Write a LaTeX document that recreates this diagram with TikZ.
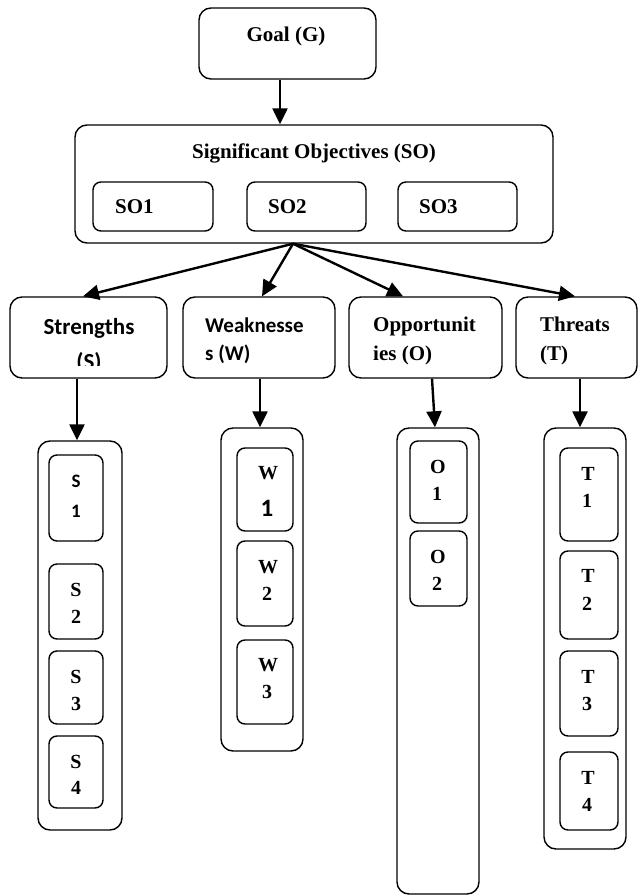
\documentclass[tikz,border=0pt]{standalone}
\usepackage{fontspec}
\setmainfont{Liberation Serif}
\newfontfamily\calib{Carlito}
\usetikzlibrary{arrows.meta}
\begin{document}
\begin{tikzpicture}[x=1pt,y=-1pt,
  bigbox/.style={draw, line width=1.4pt, rounded corners=12pt, inner sep=0pt},
  smallbox/.style={draw, line width=1.4pt, rounded corners=8pt, inner sep=0pt},
  arr/.style={line width=2.4pt, -{Triangle[length=16pt,width=15pt]}},
  lbl/.style={inner sep=0pt, font=\fontsize{21}{25}\selectfont\bfseries},
  clbl/.style={inner sep=0pt, font=\fontsize{21}{25}\selectfont\calib\bfseries},
  cbig/.style={inner sep=0pt, font=\fontsize{23}{27}\selectfont\calib\bfseries},
  cdig/.style={inner sep=0pt, font=\fontsize{19}{23}\selectfont\calib\bfseries},
  tlbl/.style={inner sep=0pt, font=\fontsize{20}{24}\selectfont\bfseries}
]
\useasboundingbox (0,0) rectangle (638,896);

% top
\node[bigbox, minimum width=177pt, minimum height=71pt] (goal) at (287.5,43.5) {};
\node[lbl, anchor=base] (goalt) at (286,42) {Goal (G)};

\node[bigbox, minimum width=478pt, minimum height=118pt] (so) at (314,184) {};
\node[lbl, anchor=base] (sot) at (314,159) {Significant Objectives (SO)};
\node[smallbox, minimum width=120pt, minimum height=49pt] (so1) at (153,206.5) {};
\node[smallbox, minimum width=119pt, minimum height=49pt] (so2) at (306.5,206.5) {};
\node[smallbox, minimum width=119pt, minimum height=49pt] (so3) at (457.5,206.5) {};
\node[lbl, anchor=base west] (so1t) at (115,213) {SO1};
\node[lbl, anchor=base west] (so2t) at (268,213) {SO2};
\node[lbl, anchor=base west] (so3t) at (419,213) {SO3};

% level 2
\node[bigbox, minimum width=157pt, minimum height=81pt] (st) at (88.5,337.5) {};
\node[bigbox, minimum width=152pt, minimum height=81pt] (wk) at (259,337.5) {};
\node[bigbox, minimum width=153pt, minimum height=81pt] (op) at (425.5,337.5) {};
\node[bigbox, minimum width=121pt, minimum height=81pt] (th) at (576.5,337.5) {};

\node[cbig, anchor=base] (stt) at (89,334) {Strengths};
\begin{scope}
  \clip (10,297) rectangle (167,365);
  \node[cbig, anchor=base] (stt2) at (89,369) {(S)};
\end{scope}
\node[clbl, anchor=base west] (wkt) at (205,332) {Weaknesse};
\node[clbl, anchor=base west] (wkt2) at (205,360) {s (W)};
\node[lbl, anchor=base west] (opt) at (373,331) {Opportunit};
\node[lbl, anchor=base west] (opt2) at (373,360) {ies (O)};
\node[lbl, anchor=base west] (tht) at (540,331) {Threats};
\node[lbl, anchor=base west] (tht2) at (540,360) {(T)};

% level 3 containers
\node[bigbox, minimum width=84pt, minimum height=389pt] (scont) at (80,635.5) {};
\node[bigbox, minimum width=82pt, minimum height=323pt] (wcont) at (262,589.5) {};
\node[bigbox, minimum width=82pt, minimum height=466pt] (ocont) at (438,661) {};
\node[bigbox, minimum width=82pt, minimum height=421pt] (tcont) at (585,638.5) {};

% S items
\node[smallbox, minimum width=54pt, minimum height=86pt] (s1) at (76,498) {};
\node[smallbox, minimum width=54pt, minimum height=75pt] (s2) at (76,601.5) {};
\node[smallbox, minimum width=54pt, minimum height=73pt] (s3) at (76,687.5) {};
\node[smallbox, minimum width=54pt, minimum height=72pt] (s4) at (76,772) {};
\node[cdig, anchor=base] (s1a) at (76,487) {S};
\node[cdig, anchor=base] (s1b) at (76,517) {1};
\node[tlbl, anchor=base] (s2a) at (76,596) {S};
\node[tlbl, anchor=base] (s2b) at (76,623) {2};
\node[tlbl, anchor=base] (s3a) at (76,683) {S};
\node[tlbl, anchor=base] (s3b) at (76,710) {3};
\node[tlbl, anchor=base] (s4a) at (76,768) {S};
\node[tlbl, anchor=base] (s4b) at (76,794) {4};

% W items
\node[smallbox, minimum width=56pt, minimum height=83pt] (w1) at (265,489.5) {};
\node[smallbox, minimum width=56pt, minimum height=85pt] (w2) at (265,583.5) {};
\node[smallbox, minimum width=56pt, minimum height=84pt] (w3) at (265,682) {};
\node[tlbl, anchor=base] (w1a) at (268,479) {W};
\node[inner sep=0pt, font=\fontsize{25}{29}\selectfont\calib\bfseries, anchor=base] (w1b) at (267,516) {1};
\node[tlbl, anchor=base] (w2a) at (268,573) {W};
\node[tlbl, anchor=base] (w2b) at (267,600) {2};
\node[tlbl, anchor=base] (w3a) at (268,671) {W};
\node[tlbl, anchor=base] (w3b) at (267,698) {3};

% O items
\node[smallbox, minimum width=57pt, minimum height=82pt] (o1) at (438.5,482) {};
\node[smallbox, minimum width=57pt, minimum height=75pt] (o2) at (438.5,568.5) {};
\node[tlbl, anchor=base] (o1a) at (438,473) {O};
\node[tlbl, anchor=base] (o1b) at (437,500) {1};
\node[tlbl, anchor=base] (o2a) at (438,563) {O};
\node[tlbl, anchor=base] (o2b) at (437,590) {2};

% T items
\node[smallbox, minimum width=58pt, minimum height=93pt] (t1) at (589,494.5) {};
\node[smallbox, minimum width=58pt, minimum height=88pt] (t2) at (589,595) {};
\node[smallbox, minimum width=58pt, minimum height=85pt] (t3) at (589,693.5) {};
\node[smallbox, minimum width=58pt, minimum height=78pt] (t4) at (589,791) {};
\node[tlbl, anchor=base] (t1a) at (588,480) {T};
\node[tlbl, anchor=base] (t1b) at (587,507) {1};
\node[tlbl, anchor=base] (t2a) at (588,582) {T};
\node[tlbl, anchor=base] (t2b) at (587,610) {2};
\node[tlbl, anchor=base] (t3a) at (588,683) {T};
\node[tlbl, anchor=base] (t3b) at (587,710) {3};
\node[tlbl, anchor=base] (t4a) at (588,784) {T};
\node[tlbl, anchor=base] (t4b) at (587,811) {4};

% connectors
\draw[arr] (goal.south -| 280,0) -- (so.north -| 280,0);
\coordinate (fan) at (so.south -| 293,0);
\draw[arr] (fan) -- (st.north -| 83,0);
\draw[arr] (fan) -- (wk.north -| 262,0);
\draw[arr] (fan) -- (op.north -| 403,0);
\draw[arr] (fan) -- (th.north -| 575,0);
\draw[arr] (st.south -| 77,0) -- (scont.north -| 77,0);
\draw[arr] (wk.south -| 260,0) -- (wcont.north -| 260,0);
\draw[arr] (op.south -| 432,0) -- (ocont.north -| 435,0);
\draw[arr] (th.south -| 580,0) -- (tcont.north -| 580,0);
\end{tikzpicture}
\end{document}
